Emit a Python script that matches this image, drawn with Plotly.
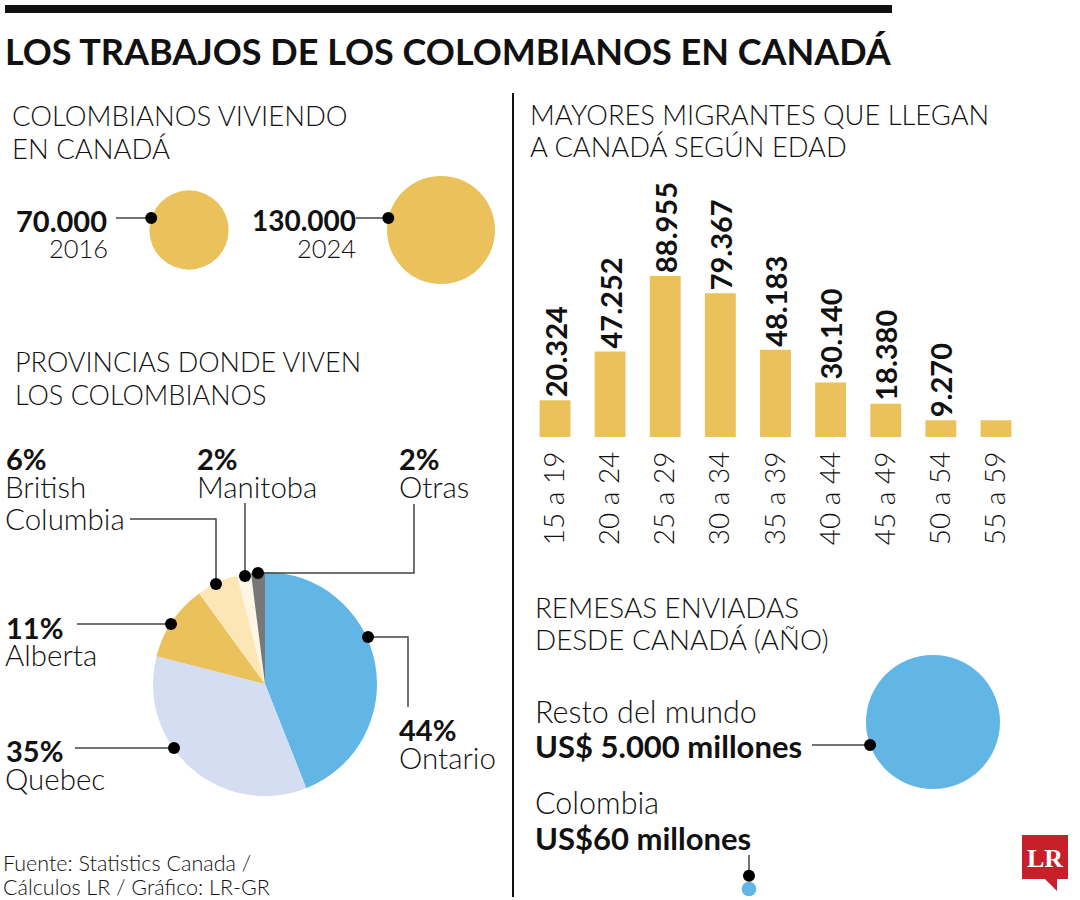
import math
import plotly.graph_objects as go

# ---------------- DATA ----------------
title_text = "LOS TRABAJOS DE LOS COLOMBIANOS EN CANADÁ"

pop_years = ["2016", "2024"]
pop_values = [70000, 130000]
pop_labels = ["70.000", "130.000"]

provinces = ["Ontario", "Quebec", "Alberta", "British Columbia", "Manitoba", "Otras"]
province_share = [44, 35, 11, 6, 2, 2]
province_colors = ["#62b6e6", "#d4ddf1", "#ebc15c", "#fde6b6", "#fef5e4", "#777777"]

age_groups = ["15 a 19", "20 a 24", "25 a 29", "30 a 34", "35 a 39",
              "40 a 44", "45 a 49", "50 a 54", "55 a 59"]
age_values = [20324, 47252, 88955, 79367, 48183, 30140, 18380, 9270, 9300]
age_labels = ["20.324", "47.252", "88.955", "79.367", "48.183",
              "30.140", "18.380", "9.270", ""]

remit_names = ["Resto del mundo", "Colombia"]
remit_values = [5000, 60]          # millones de US$
remit_labels = ["US$ 5.000 millones", "US$60 millones"]

# ---------------- STYLE / LAYOUT CONSTANTS ----------------
W, H = 1080, 900
FONT = "Lato"
GOLD = "#ebc15c"
BLUE = "#62b6e6"
LINE = "#444444"


def fy(py):
    return 1 - py / H


fig = go.Figure()

# Bars (age groups)
fig.add_trace(go.Bar(
    x=age_groups, y=age_values, text=age_labels,
    marker=dict(color=GOLD, line=dict(width=0)), width=0.56,
    textposition="outside", textangle=-90, constraintext="none",
    cliponaxis=False,
    textfont=dict(family=FONT, size=29, color="#111111", weight=700),
    xaxis="x", yaxis="y", hoverinfo="skip", showlegend=False,
))

# Pie (provinces)
fig.add_trace(go.Pie(
    labels=provinces, values=province_share, sort=False,
    direction="clockwise", rotation=0, textinfo="none",
    marker=dict(colors=province_colors, line=dict(width=0)),
    domain=dict(x=[153 / W, 377 / W], y=[fy(796), fy(572)]),
    showlegend=False, hoverinfo="label+percent",
))

# Bubbles: Colombianos viviendo en Canadá
POP_R_MAX = 54
pop_sizeref = max(pop_values) / (2 * POP_R_MAX ** 2)
pop_cx = [189, 441]
pop_cy = [230, 230]
fig.add_trace(go.Scatter(
    x=pop_cx, y=pop_cy, mode="markers",
    marker=dict(size=pop_values, sizemode="area", sizeref=pop_sizeref,
                color=GOLD, opacity=1, line=dict(width=0)),
    xaxis="x2", yaxis="y2", hoverinfo="skip", showlegend=False,
))

# Bubbles: remesas
REM_R_MAX = 67
rem_sizeref = max(remit_values) / (2 * REM_R_MAX ** 2)
rem_cx = [933, 749]
rem_cy = [722, 889]
fig.add_trace(go.Scatter(
    x=rem_cx, y=rem_cy, mode="markers",
    marker=dict(size=remit_values, sizemode="area", sizeref=rem_sizeref,
                color=BLUE, opacity=1, line=dict(width=0)),
    xaxis="x2", yaxis="y2", hoverinfo="skip", showlegend=False,
))


def radius(v, sref):
    return math.sqrt(v / (2 * sref))


shapes = []
# top bar and divider
shapes.append(dict(type="rect", xref="x2", yref="y2", x0=5, x1=892, y0=5, y1=13,
                   fillcolor="#111111", line=dict(width=0), layer="above"))
shapes.append(dict(type="line", xref="x2", yref="y2", x0=513, x1=513, y0=93, y1=897,
                   line=dict(color="#111111", width=2), layer="above"))


def poly(points):
    d = "M" + " L".join(f"{x},{y}" for x, y in points)
    shapes.append(dict(type="path", xref="x2", yref="y2", path=d,
                       line=dict(color=LINE, width=1.5), layer="above"))


dots = []

# population bubble callouts
for i, v in enumerate(pop_values):
    r = radius(v, pop_sizeref)
    dy = -12
    dx = math.sqrt(r * r - dy * dy)
    px, py = pop_cx[i] - dx, pop_cy[i] + dy
    start = [116, 356][i]
    poly([(start, py), (px, py)])
    dots.append((px, py))

# remittance callouts
r0 = radius(remit_values[0], rem_sizeref)
dy = 23
px = rem_cx[0] - math.sqrt(r0 * r0 - dy * dy)
poly([(812, rem_cy[0] + dy), (px, rem_cy[0] + dy)])
dots.append((px, rem_cy[0] + dy))
r1 = radius(remit_values[1], rem_sizeref)
poly([(rem_cx[1], 855), (rem_cx[1], rem_cy[1] - r1 - 6)])
dots.append((rem_cx[1], rem_cy[1] - r1 - 6))

# pie callouts
poly([(368, 637), (408, 637), (408, 707)])            # Ontario
dots.append((368, 637))
poly([(75, 748), (174, 748)])                        # Quebec
dots.append((174, 748))
poly([(77, 624), (171, 624)])                        # Alberta
dots.append((171, 624))
poly([(130, 519), (216, 519), (216, 584)])           # British Columbia
dots.append((216, 584))
poly([(245, 503), (245, 576)])                       # Manitoba
dots.append((245, 576))
poly([(414, 504), (414, 573), (258, 573)])           # Otras
dots.append((258, 573))

DOT_R = 6
for (x, y) in dots:
    shapes.append(dict(type="circle", xref="x2", yref="y2",
                       x0=x - DOT_R, x1=x + DOT_R, y0=y - DOT_R, y1=y + DOT_R,
                       fillcolor="#000000", line=dict(width=0), layer="above"))

# LR logo
shapes.append(dict(type="path", xref="x2", yref="y2",
                   path="M1022,835 L1068,835 L1068,879 L1057,879 L1057,891 L1045,879 L1022,879 Z",
                   fillcolor="#c8202a", line=dict(width=0), layer="above"))

# ---------------- TEXT ----------------
ann = []


def txt(s, x, y, size, weight=300, anchor="left", color="#111111", family=FONT):
    ann.append(dict(text=s, x=x, y=y, xref="x2", yref="y2", showarrow=False,
                    xanchor=anchor, yanchor="middle", borderpad=0,
                    font=dict(family=family, size=size, color=color, weight=weight)))


txt(title_text, 4, 51, 36, 700)

txt("COLOMBIANOS VIVIENDO", 11, 115, 27.5)
txt("EN CANADÁ", 11, 148, 27.5)
txt(pop_labels[0], 108, 220, 29, 700, "right")
txt(pop_years[0], 109, 248, 25.5, 300, "right")
txt(pop_labels[1], 357, 220, 28, 700, "right")
txt(pop_years[1], 357, 248, 25.5, 300, "right")

txt("PROVINCIAS DONDE VIVEN", 14, 361, 27)
txt("LOS COLOMBIANOS", 14, 394, 27)

PCT = 29
NAME = 29.5
txt(f"{province_share[3]}%", 5, 458, PCT, 700)
txt("British", 4, 486, NAME)
txt("Columbia", 4, 518, NAME)
txt(f"{province_share[4]}%", 196, 458, PCT, 700)
txt(provinces[4], 196, 486, NAME)
txt(f"{province_share[5]}%", 398, 458, PCT, 700)
txt(provinces[5], 398, 486, NAME)
txt(f"{province_share[2]}%", 5, 627, PCT, 700)
txt(provinces[2], 4, 654, NAME)
txt(f"{province_share[1]}%", 5, 750, PCT, 700)
txt(provinces[1], 4, 778, NAME)
txt(f"{province_share[0]}%", 398, 729, PCT, 700)
txt(provinces[0], 398, 757, NAME)

txt("Fuente: Statistics Canada /", 2, 863, 21.5)
txt("Cálculos LR / Gráfico: LR-GR", 2, 887, 21.5)

txt("MAYORES MIGRANTES QUE LLEGAN", 529, 114, 27.3)
txt("A CANADÁ SEGÚN EDAD", 529, 146, 27.3)

txt("REMESAS ENVIADAS", 534, 607, 27.8)
txt("DESDE CANADÁ (AÑO)", 534, 639, 27.8)
txt(remit_names[0], 534, 711, 30.5)
txt(remit_labels[0], 534, 746, 31, 700)
txt(remit_names[1], 534, 802, 30.5)
txt(remit_labels[1], 534, 838, 31, 700)

txt("LR", 1045, 858, 26, 700, "center", "#ffffff", "Liberation Serif")

# ---------------- LAYOUT ----------------
bar_c0, bar_c1 = 555, 996
step = (bar_c1 - bar_c0) / (len(age_groups) - 1)
fig.update_layout(
    width=W, height=H, margin=dict(l=0, r=0, t=0, b=0),
    paper_bgcolor="white", plot_bgcolor="rgba(0,0,0,0)",
    separators=",.", showlegend=False,
    xaxis=dict(domain=[(bar_c0 - step / 2) / W, (bar_c1 + step / 2) / W],
               type="category", tickangle=-90, showgrid=False, zeroline=False,
               showline=False, ticks="", ticklabelstandoff=8,
               tickfont=dict(family=FONT, size=28, color="#111111", weight=300),
               anchor="y", fixedrange=True),
    yaxis=dict(domain=[fy(437), fy(256)], range=[0, 100000], visible=False,
               anchor="x", fixedrange=True),
    xaxis2=dict(domain=[0, 1], range=[0, W], visible=False, anchor="y2",
                fixedrange=True),
    yaxis2=dict(domain=[0, 1], range=[H, 0], visible=False, anchor="x2",
                fixedrange=True),
    shapes=shapes, annotations=ann,
)

fig.write_html("out.html", config={"displayModeBar": False},
               post_script="document.body.style.margin='0';")
